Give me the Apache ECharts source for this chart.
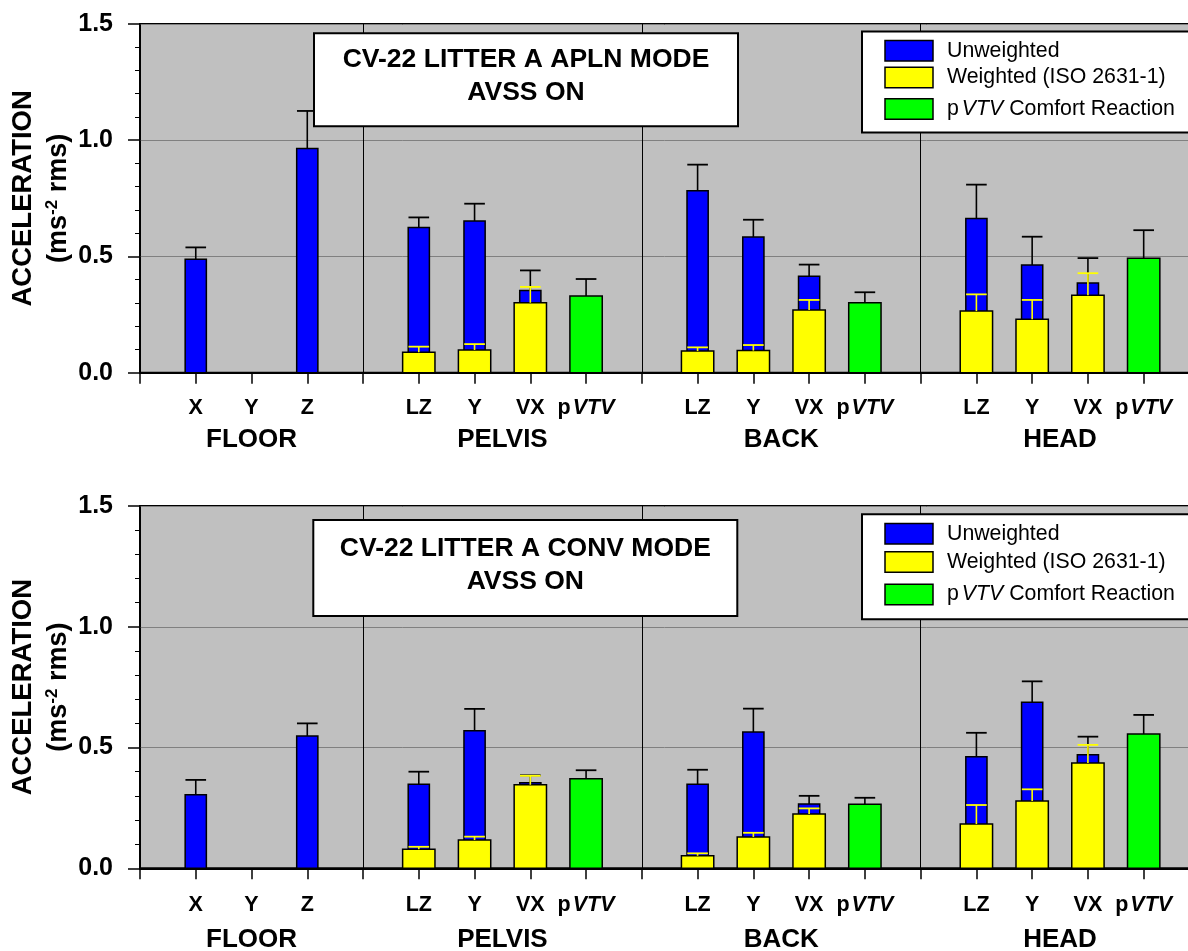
<!DOCTYPE html>
<html><head><meta charset="utf-8">
<script src="https://cdn.jsdelivr.net/npm/echarts@6/dist/echarts.min.js"></script>
<style>html,body{margin:0;padding:0;background:#fff}#c{width:1188px;height:951px}</style>
</head><body><div id="c"></div><script>
// ---------- data ----------
const categories = ['', 'X', 'Y', 'Z', '', 'LZ', 'Y', 'VX', 'pVTV', '', 'LZ', 'Y', 'VX', 'pVTV', '', 'LZ', 'Y', 'VX', 'pVTV'];
const dividers = [0, 4, 9, 14, 19];
const groupNames = ['FLOOR', 'PELVIS', 'BACK', 'HEAD'];
const unweightedPos = [1, 3, 5, 6, 7, 10, 11, 12, 15, 16, 17];
const weightedPos = [5, 6, 7, 10, 11, 12, 15, 16, 17];
const pvtvPos = [8, 13, 18];

// APLN mode (top)
const aplnUnweighted    = [0.488, 0.964, 0.625, 0.653, 0.354, 0.783, 0.584, 0.415, 0.663, 0.463, 0.386];
const aplnUnweightedErr = [0.539, 1.126, 0.668, 0.727, 0.440, 0.895, 0.658, 0.465, 0.809, 0.585, 0.493];
const aplnWeighted      = [0.088, 0.098, 0.301, 0.093, 0.095, 0.270, 0.265, 0.230, 0.333];
const aplnWeightedErr   = [0.112, 0.123, 0.369, 0.109, 0.119, 0.313, 0.337, 0.313, 0.428];
const aplnPvtv          = [0.330, 0.301, 0.492];
const aplnPvtvErr       = [0.403, 0.346, 0.613];

// CONV mode (bottom)
const convUnweighted    = [0.305, 0.548, 0.348, 0.570, 0.354, 0.348, 0.564, 0.266, 0.462, 0.687, 0.470];
const convUnweightedErr = [0.366, 0.600, 0.400, 0.660, 0.385, 0.408, 0.661, 0.300, 0.561, 0.774, 0.545];
const convWeighted      = [0.079, 0.117, 0.346, 0.052, 0.130, 0.225, 0.183, 0.279, 0.436];
const convWeightedErr   = [0.089, 0.131, 0.383, 0.062, 0.147, 0.248, 0.262, 0.327, 0.511];
const convPvtv          = [0.371, 0.265, 0.556];
const convPvtvErr       = [0.406, 0.292, 0.635];

const titles = [['CV-22 LITTER A APLN MODE', 'AVSS ON'], ['CV-22 LITTER A CONV MODE', 'AVSS ON']];
const legendLabels = ['Unweighted', 'Weighted (ISO 2631-1)', '{n|p}{i|VTV}{n| Comfort Reaction}'];
const yTitleLines = ['ACCELERATION', '{a|(ms}{s|-2}{a| rms)}'];

// ---------- styling / layout ----------
const FONT = '"Liberation Sans", Arial, Helvetica, sans-serif';
const BLUE = '#0000FF', YELLOW = '#FFFF00', GREEN = '#00FF00';
const legendColors = [BLUE, YELLOW, GREEN];

const panels = [
  { uw: aplnUnweighted, uwE: aplnUnweightedErr, w: aplnWeighted, wE: aplnWeightedErr, p: aplnPvtv, pE: aplnPvtvErr,
    grid: { top: 24, height: 348.7 }, labelMargin: 24, groupOffset: 67,
    box: { x: 314, y: 33.3, w: 424, h: 93, l1: 60, l2: 93 },
    leg: { x: 862, y: 31.5, h: 101, rows: [50.8, 77.5, 109] } },
  { uw: convUnweighted, uwE: convUnweightedErr, w: convWeighted, wE: convWeightedErr, p: convPvtv, pE: convPvtvErr,
    grid: { top: 506, height: 362.3 }, labelMargin: 26, groupOffset: 72,
    box: { x: 313.3, y: 520, w: 424, h: 96, l1: 548.3, l2: 581.7 },
    leg: { x: 862, y: 514.3, h: 105, rows: [533.7, 562, 594.5] } }
];

function zip(pos, vals, errs) { return pos.map((x, i) => [x, vals[i], errs[i]]); }

function barRender(widthUnits, fill, errColor) {
  return function (params, api) {
    const x = api.value(0), v = api.value(1), e = api.value(2);
    const base = api.coord([x, 0]);
    const top = api.coord([x, v]);
    const err = api.coord([x, e]);
    const w = api.size([widthUnits, 0])[0];
    const cw = api.size([0.37, 0])[0];
    return {
      type: 'group',
      children: [
        { type: 'rect', shape: { x: base[0] - w / 2, y: top[1], width: w, height: base[1] - top[1] },
          style: { fill: fill, stroke: '#000', lineWidth: 1.5 } },
        { type: 'line', shape: { x1: top[0], y1: top[1], x2: err[0], y2: err[1] },
          style: { stroke: errColor, lineWidth: 1.6 } },
        { type: 'line', shape: { x1: err[0] - cw / 2, y1: err[1], x2: err[0] + cw / 2, y2: err[1] },
          style: { stroke: errColor, lineWidth: 1.8 } }
      ]
    };
  };
}

const grids = [], xAxes = [], yAxes = [], series = [], graphics = [];
const groupCenters = groupNames.map((n, i) => [(dividers[i] + dividers[i + 1]) / 2, 0, i]);

panels.forEach((P, k) => {
  grids.push({ left: 140, top: P.grid.top, height: P.grid.height, width: 19 * 55.76,
    outerBoundsMode: 'none', containLabel: false,
    show: true, backgroundColor: '#C0C0C0', borderColor: '#000', borderWidth: 2 });
  xAxes.push({ gridIndex: k, type: 'value', min: 0, max: 19, interval: 1,
    axisLine: { show: true, onZero: false, lineStyle: { color: '#000', width: 2.2 } },
    axisTick: { show: true, length: 11, lineStyle: { color: '#000', width: 1.5 } },
    splitLine: { show: false },
    axisLabel: { margin: P.labelMargin, fontSize: 21.5, fontWeight: 'bold', fontFamily: FONT, color: '#000',
      formatter: function (v) {
        const i = Math.round(v);
        if (Math.abs(v - i) > 1e-6) return '';
        const c = categories[i] || '';
        return c === 'pVTV' ? '{b|p}{i|VTV}' : c;
      },
      rich: { b: { fontSize: 21.5, fontWeight: 'bold', fontFamily: FONT, color: '#000' },
              i: { fontSize: 21.5, fontWeight: 'bold', fontStyle: 'italic', fontFamily: FONT, color: '#000', padding: [0, 0, 0, 2] } } }
  });
  yAxes.push({ gridIndex: k, type: 'value', min: 0, max: 1.5, interval: 0.5,
    axisLine: { show: true, lineStyle: { color: '#000', width: 1.5 } },
    axisTick: { show: true, length: 12, lineStyle: { color: '#000', width: 1.5 } },
    minorTick: { show: true, splitNumber: 5, length: 5, lineStyle: { color: '#000', width: 1 } },
    splitLine: { show: true, lineStyle: { color: '#808080', width: 1 } },
    axisLabel: { margin: 27, fontSize: 25, fontWeight: 'bold', fontFamily: FONT, color: '#000',
      formatter: v => v.toFixed(1) }
  });
  series.push({ type: 'custom', name: 'Unweighted', xAxisIndex: k, yAxisIndex: k, z: 3,
    data: zip(unweightedPos, P.uw, P.uwE), encode: { x: 0, y: 1 },
    renderItem: barRender(0.38, BLUE, '#000'), silent: true });
  series.push({ type: 'custom', name: 'Weighted (ISO 2631-1)', xAxisIndex: k, yAxisIndex: k, z: 4,
    data: zip(weightedPos, P.w, P.wE), encode: { x: 0, y: 1 },
    renderItem: barRender(0.58, YELLOW, YELLOW), silent: true });
  series.push({ type: 'custom', name: 'pVTV Comfort Reaction', xAxisIndex: k, yAxisIndex: k, z: 4,
    data: zip(pvtvPos, P.p, P.pE), encode: { x: 0, y: 1 },
    renderItem: barRender(0.58, GREEN, '#000'), silent: true,
    markLine: { silent: true, symbol: 'none', label: { show: false }, animation: false,
      lineStyle: { color: '#000', width: 1, type: 'solid' },
      data: dividers.slice(1, -1).map(d => ({ xAxis: d })) } });
  series.push({ type: 'custom', xAxisIndex: k, yAxisIndex: k, silent: true, clip: false,
    data: groupCenters, encode: { x: 0, y: 1 },
    renderItem: function (params, api) {
      const pt = api.coord([api.value(0), 0]);
      return { type: 'text', x: pt[0], y: pt[1] + P.groupOffset,
        style: { text: groupNames[api.value(2)], fontSize: 26, fontWeight: 'bold', fontFamily: FONT,
          fill: '#000', align: 'center', verticalAlign: 'middle' } };
    } });

  // y axis title
  const cy = P.grid.top + P.grid.height / 2;
  graphics.push({ type: 'text', x: 23, y: cy, rotation: Math.PI / 2, z: 100,
    style: { text: yTitleLines[0], fontSize: 27.5, fontWeight: 'bold', fontFamily: FONT, fill: '#000',
      align: 'center', verticalAlign: 'middle' } });
  graphics.push({ type: 'text', x: 59, y: cy, rotation: Math.PI / 2, z: 100,
    style: { text: yTitleLines[1], align: 'center', verticalAlign: 'middle',
      rich: { a: { fontSize: 27, fontWeight: 'bold', fontFamily: FONT, fill: '#000', lineHeight: 30 },
              s: { fontSize: 17, fontWeight: 'bold', fontFamily: FONT, fill: '#000', verticalAlign: 'top', lineHeight: 16 } } } });

  // title box
  const B = P.box;
  graphics.push({ type: 'rect', z: 100, shape: { x: B.x, y: B.y, width: B.w, height: B.h },
    style: { fill: '#fff', stroke: '#000', lineWidth: 2 } });
  [B.l1, B.l2].forEach((ly, j) => graphics.push({ type: 'text', z: 101, x: B.x + B.w / 2, y: ly,
    style: { text: titles[k][j], fontSize: 26.5, fontWeight: 'bold', fontFamily: FONT, fill: '#000',
      align: 'center', verticalAlign: 'middle' } }));

  // legend box
  const L = P.leg;
  graphics.push({ type: 'rect', z: 100, shape: { x: L.x, y: L.y, width: 360, height: L.h },
    style: { fill: '#fff', stroke: '#000', lineWidth: 2 } });
  legendLabels.forEach((lab, j) => {
    graphics.push({ type: 'rect', z: 101, shape: { x: L.x + 23, y: L.rows[j] - 10.2, width: 48, height: 20.4 },
      style: { fill: legendColors[j], stroke: '#000', lineWidth: 1.5 } });
    graphics.push({ type: 'text', z: 101, x: L.x + 85, y: L.rows[j],
      style: { text: lab, fontSize: 21.3, fontFamily: FONT, fill: '#000', align: 'left', verticalAlign: 'middle',
        rich: { n: { fontSize: 21.3, fontFamily: FONT, fill: '#000' },
                i: { fontSize: 21.3, fontStyle: 'italic', fontFamily: FONT, fill: '#000', padding: [0, 0, 0, 3] } } } });
  });
});

const chart = echarts.init(document.getElementById('c'), null, { renderer: 'canvas' });
chart.setOption({
  animation: false,
  backgroundColor: '#fff',
  grid: grids, xAxis: xAxes, yAxis: yAxes, series: series,
  graphic: { elements: graphics }
});
</script></body></html>
